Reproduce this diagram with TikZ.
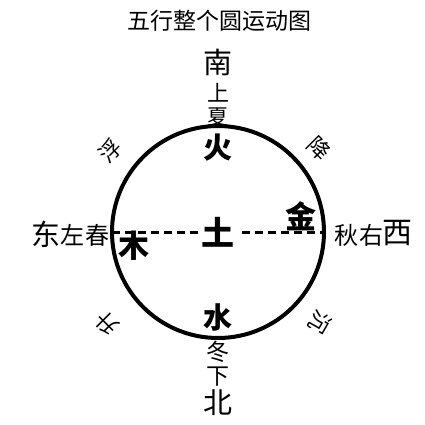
\documentclass[tikz,border=0pt]{standalone}
\usepackage{fontspec}
\newfontfamily\cjk{Noto Sans CJK SC}
\begin{document}
\begin{tikzpicture}[x=1pt,y=-1pt,
  lab/.style={inner sep=0pt,font=\cjk\fontsize{#1}{#1}\selectfont},
  el/.style={inner sep=0pt,font=\cjk\bfseries\fontsize{#1}{#1}\selectfont},
  ring/.style={circle,draw,line width=4pt,minimum size=212pt,inner sep=0pt,outer sep=0pt},
  axis/.style={line width=3pt,dash pattern=on 8pt off 5pt}]
\useasboundingbox (0,0) rectangle (425,425);
\node[ring] (c) at (218,232) {};
\draw[axis] (c.west) -- (c.east);
\node[lab=23] (title) at (219,21) {五行整个圆运动图};
\node[lab=29] (nan) at (218,62) {南};
\node[lab=22] (shang) at (218,93) {上};
\node[lab=21] (xia) at (218,117) {夏};
\node[el=29] (huo) at (218,148) {火};
\node[el=33,fill=white,inner xsep=3pt] (tu) at (218,232) {土};
\node[el=31] (jin) at (301,216) {金};
\node[el=31] (mu) at (134,246) {木};
\node[el=29] (shui) at (218,317) {水};
\node[lab=23] (dong) at (218,352) {冬};
\node[lab=23] (xiax) at (218,377) {下};
\node[lab=29] (bei) at (218,403) {北};
\node[lab=29] (east) at (46,234) {东};
\node[lab=24] (zuo) at (72,235) {左};
\node[lab=24] (chun) at (97,235) {春};
\node[lab=24] (qiu) at (346,235) {秋};
\node[lab=24] (you) at (371,235) {右};
\node[lab=30] (west) at (397,233) {西};
\node[lab=22,rotate=45] (fu) at (110,151) {浮};
\node[lab=22,rotate=-45] (jiang) at (319,148) {降};
\node[lab=22,rotate=135] (sheng) at (107,323) {升};
\node[lab=22,rotate=-120] (chen) at (320,322) {沉};
\end{tikzpicture}
\end{document}
